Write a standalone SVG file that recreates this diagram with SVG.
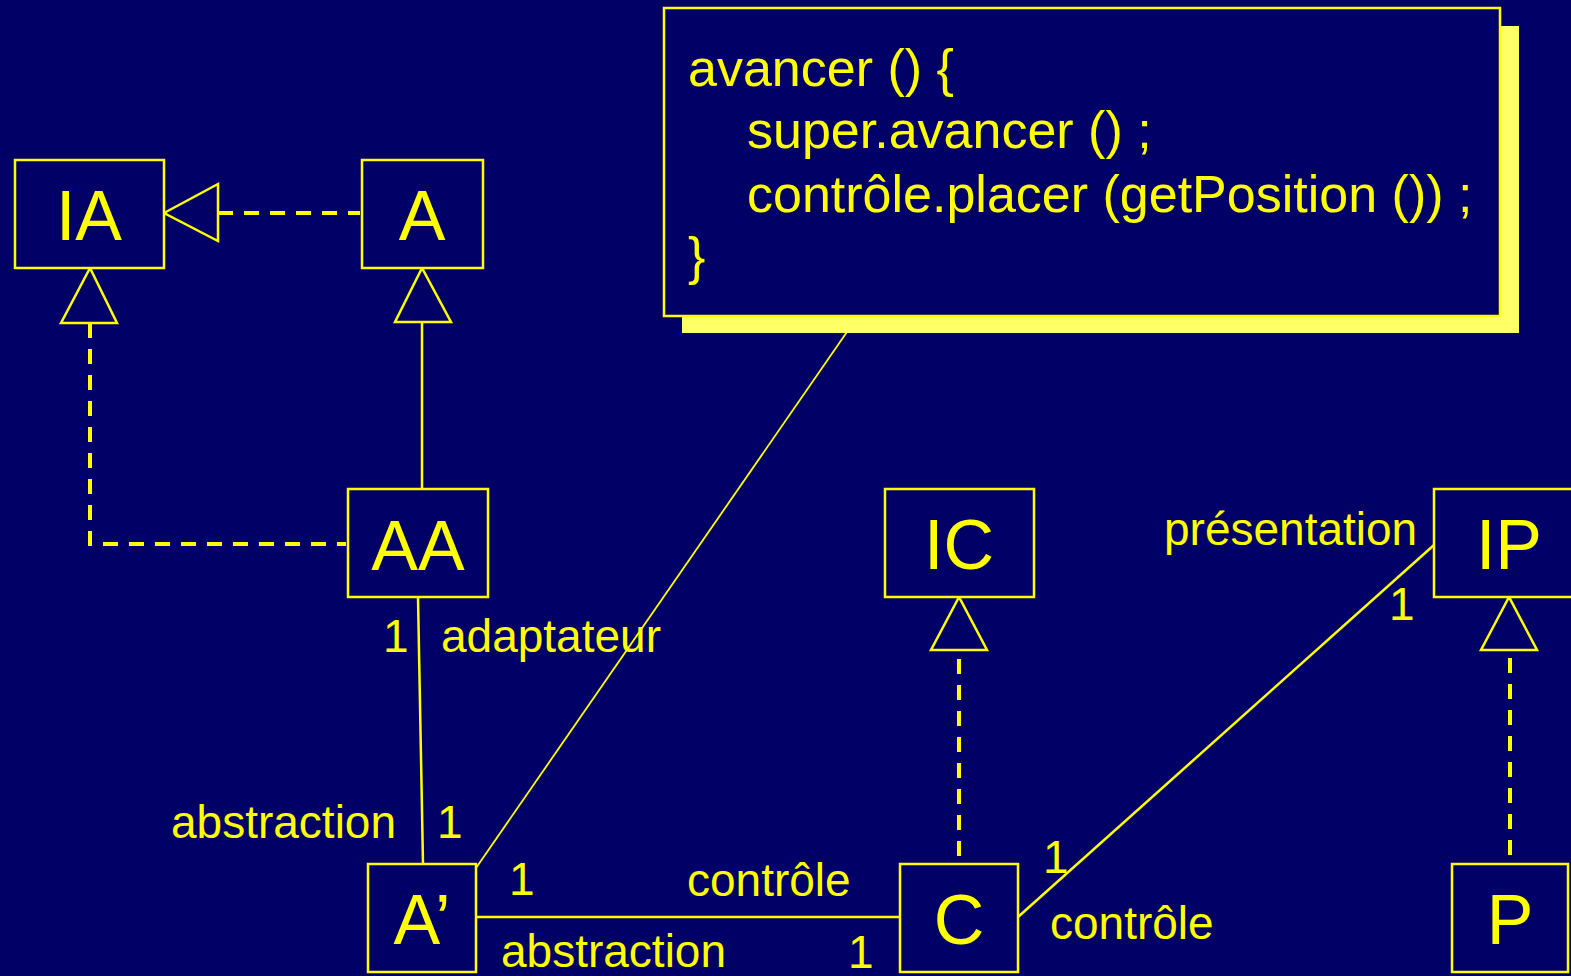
<svg xmlns="http://www.w3.org/2000/svg" width="1571" height="976" viewBox="0 0 1571 976">
<style>
.bg{fill:#000066}
.box{fill:#000066;stroke:#ffff00;stroke-width:2.5}
.nl{font-family:"Liberation Sans",Arial,sans-serif;font-size:70px;fill:#ffff00;text-anchor:middle}
.lb{font-family:"Liberation Sans",Arial,sans-serif;font-size:46px;fill:#ffff00}
.code{font-family:"Liberation Sans",Arial,sans-serif;font-size:52px;fill:#ffff00}
.solid{stroke:#ffff00;stroke-width:2.5;fill:none}
.thin{stroke:#ffff00;stroke-width:1.8;fill:none}
.dash{stroke:#ffff00;stroke-width:4;fill:none;stroke-dasharray:15 11}
.tri{fill:#000066;stroke:#ffff00;stroke-width:2.5;stroke-linejoin:miter}
</style>
<rect class="bg" x="0" y="0" width="1571" height="976"/>

<g id="connectors">
  <line class="dash" x1="218" y1="213" x2="360" y2="213"/>
  <polygon class="tri" points="164,213 218,184 218,241"/>
  <path class="dash" d="M90,323 V544 H346"/>
  <polygon class="tri" points="90,268 61,323 117,323"/>
  <line class="solid" x1="422" y1="322" x2="422" y2="489"/>
  <polygon class="tri" points="422,268 395,322 451,322"/>
  <line class="solid" x1="418" y1="597" x2="423" y2="864"/>
  <line class="thin" x1="858" y1="316" x2="476" y2="868"/>
  <line class="solid" x1="476" y1="917" x2="900" y2="917"/>
  <line class="solid" x1="1018" y1="917" x2="1434" y2="545"/>
  <line class="dash" x1="959" y1="659" x2="959" y2="862"/>
  <polygon class="tri" points="959,597 931,650 987,650"/>
  <line class="dash" x1="1510" y1="658" x2="1510" y2="862"/>
  <polygon class="tri" points="1509,597 1481,650 1537,650"/>
</g>

<g id="labels">
  <text class="lb" x="383" y="652">1</text>
  <text class="lb" x="441" y="652">adaptateur</text>
  <text class="lb" x="171" y="838">abstraction</text>
  <text class="lb" x="437" y="838">1</text>
  <text class="lb" x="509" y="895">1</text>
  <text class="lb" x="687" y="896">contrôle</text>
  <text class="lb" x="501" y="967">abstraction</text>
  <text class="lb" x="848" y="968">1</text>
  <text class="lb" x="1043" y="873">1</text>
  <text class="lb" x="1050" y="939">contrôle</text>
  <text class="lb" x="1164" y="545">présentation</text>
  <text class="lb" x="1389" y="620">1</text>
</g>

<g id="note">
  <rect x="682" y="26" width="837" height="307" fill="#ffff66"/>
  <rect class="box" x="664" y="8" width="836" height="308"/>
  <text class="code" x="688" y="86">avancer () {</text>
  <text class="code" x="747" y="148">super.avancer () ;</text>
  <text class="code" x="747" y="212">contrôle.placer (getPosition ()) ;</text>
  <text class="code" x="688" y="274">}</text>
</g>

<g id="node-IA">
  <rect class="box" x="15" y="160" width="149" height="108"/>
  <text class="nl" x="89" y="240">IA</text>
</g>
<g id="node-A">
  <rect class="box" x="362" y="160" width="121" height="108"/>
  <text class="nl" x="422" y="240">A</text>
</g>
<g id="node-AA">
  <rect class="box" x="348" y="489" width="140" height="108"/>
  <text class="nl" x="418" y="570">AA</text>
</g>
<g id="node-Aprime">
  <rect class="box" x="368" y="864" width="108" height="108"/>
  <text class="nl" x="422" y="944">A’</text>
</g>
<g id="node-IC">
  <rect class="box" x="885" y="489" width="149" height="108"/>
  <text class="nl" x="959" y="569">IC</text>
</g>
<g id="node-C">
  <rect class="box" x="900" y="864" width="118" height="108"/>
  <text class="nl" x="959" y="944">C</text>
</g>
<g id="node-IP">
  <rect class="box" x="1434" y="489" width="150" height="108"/>
  <text class="nl" x="1509" y="569">IP</text>
</g>
<g id="node-P">
  <rect class="box" x="1452" y="864" width="116" height="108"/>
  <text class="nl" x="1510" y="944">P</text>
</g>
</svg>
